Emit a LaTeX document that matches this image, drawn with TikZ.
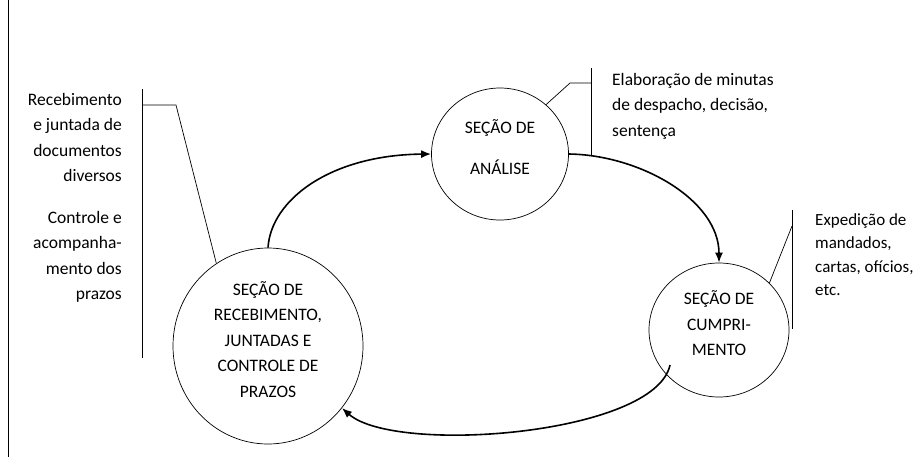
\documentclass[tikz,border=0pt]{standalone}
\usepackage{fontspec}
\setmainfont{Carlito}
\usetikzlibrary{shapes.geometric,arrows.meta}

\tikzset{
  secao/.style={draw,ellipse,line width=0.7pt,inner sep=0pt,align=center},
  nota/.style={inner sep=0pt},
  fluxo/.style={line width=1.6pt,-{Latex[length=10pt,width=8pt]}},
  guia/.style={line width=0.7pt}
}

\begin{document}
\begin{tikzpicture}[x=1pt,y=-1pt,font=\fontsize{17.5pt}{25.5pt}\selectfont]
      \useasboundingbox (0,0) rectangle (913,467);
      \draw[guia] (8,0) -- (8,457);

      % the three sections
      \node[secao,minimum width=190pt,minimum height=196pt] (sr) at (268,346) {SEÇÃO DE\\RECEBIMENTO,\\JUNTADAS E\\CONTROLE DE\\PRAZOS\\[-12pt]};
      \node[secao,minimum width=137pt,minimum height=132pt] (sa) at (500,154) {SEÇÃO DE\\[16pt]ANÁLISE\\[-12pt]};
      \node[secao,minimum width=140pt,minimum height=134pt] (sc) at (719,330) {SEÇÃO DE\\CUMPRI-\\MENTO\\[-12pt]};

      % notes
      \node[nota,align=right,anchor=north east] (nr) at (122,93) {Recebimento\\e juntada de\\documentos\\diversos};
      \node[nota,align=right,anchor=north east] (nc) at (122,211) {Controle e\\acompanha-\\mento dos\\prazos};
      \node[nota,align=left,anchor=north west] (na) at (612,73) {Elaboração de minutas\\de despacho, decisão,\\sentença};
      \node[nota,align=left,anchor=north west,font=\fontsize{17pt}{23.5pt}\selectfont] (ne) at (815,213) {Expedição de\\mandados,\\cartas, ofícios,\\etc.};

      % brackets
      \coordinate (r1) at (142,89); \coordinate (r2) at (142,358);
      \coordinate (rk) at (142,105); \coordinate (rb) at (176,105);
      \draw[guia] (r1) -- (r2);
      \draw[guia] (rk) -- (rb) -- (sr.122);
      \coordinate (a1) at (591,68); \coordinate (a2) at (591,155);
      \coordinate (ak) at (591,83); \coordinate (ab) at (570,83);
      \draw[guia] (a1) -- (a2);
      \draw[guia] (ak) -- (ab) -- (sa.47);
      \coordinate (c1) at (792,210); \coordinate (c2) at (792,329);
      \coordinate (ck) at (792,226);
      \draw[guia] (c1) -- (c2);
      \draw[guia] (ck) -- (sc.43);

      % flow
      \draw[fluxo] (sr.90) .. controls (271,200) and (330,155) .. (sa.west);
      \draw[fluxo] (sa.east) .. controls (640,155) and (719,200) .. (sc.north);
      \coordinate (cs) at (670,365);
      \draw[fluxo] (cs) .. controls (655,435) and (395,455) .. (sr.-40);
    \end{tikzpicture}
\end{document}
